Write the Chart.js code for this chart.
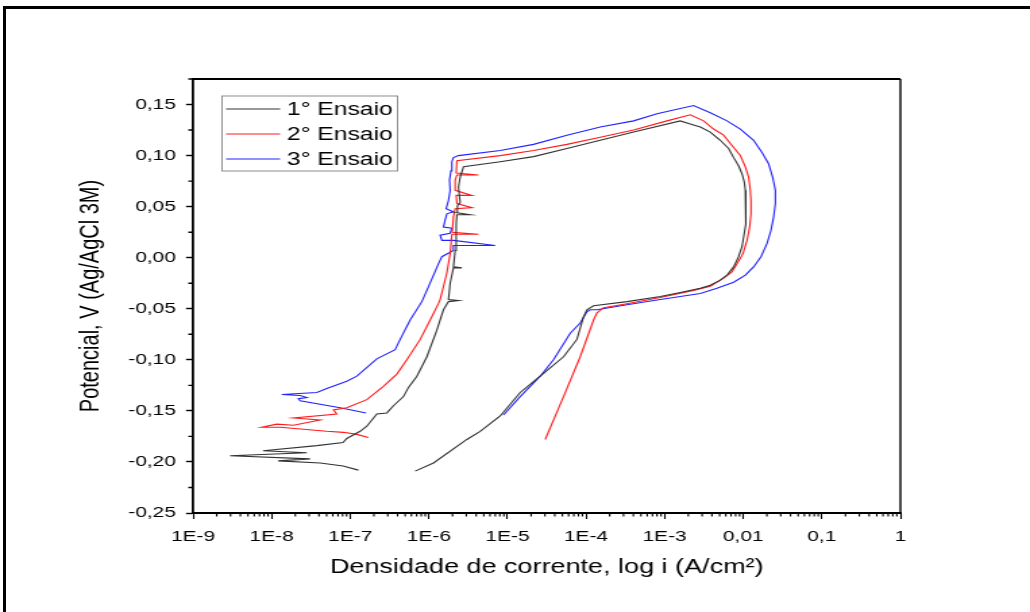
<!DOCTYPE html>
<html>
<head>
<meta charset="utf-8">
<script src="https://cdn.jsdelivr.net/npm/chart.js@4"></script>
<style>
  html, body { margin: 0; padding: 0; background: #fff; overflow: hidden; }
  body { width: 1030px; height: 612px; position: relative; }
  #frame { position: absolute; left: 3px; top: 6px; width: 1100px; height: 700px;
           border-left: 3px solid #000; border-top: 3px solid #000; }
  #wrap { position: absolute; left: 0; top: 0; width: 763px; height: 612px;
          transform: scaleX(1.34993); transform-origin: 0 0; }
</style>
</head>
<body>
<div id="frame"></div>
<div id="wrap"><canvas id="chart" width="763" height="612"></canvas></div>
<script>
// cyclic polarization curves, x = log10 of current density (A/cm2), y = potential (V)
const labels = ['1° Ensaio', '2° Ensaio', '3° Ensaio'];
const colors = ['#333333', '#ff1a1a', '#2222ff'];

const logI1 = [-6.896, -7.091, -7.383, -7.918, -7.511, -8.529, -7.553, -8.109, -7.425, -7.091,
  -7.044, -6.874, -6.789, -6.662, -6.534, -6.450, -6.323, -6.259, -6.152, -6.025,
  -5.898, -5.814, -5.750, -5.623, -5.750, -5.729, -5.687, -5.580, -5.687, -5.665,
  -5.652, -5.643, -5.474, -5.640, -5.636, -5.601, -5.623, -5.601, -5.559, -5.092,
  -4.668, -4.243, -3.819, -3.395, -2.801, -2.674, -2.546, -2.419, -2.292, -2.186,
  -2.122, -2.059, -2.015, -1.986, -1.973, -1.965, -1.965, -1.965, -1.973, -1.995,
  -2.015, -2.059, -2.122, -2.206, -2.292, -2.419, -2.546, -2.801, -3.055, -3.479,
  -3.904, -3.989, -4.032, -4.116, -4.286, -4.583, -4.838, -5.092, -5.347, -5.516,
  -5.941, -6.174];
const pot1 = [-0.208, -0.204, -0.201, -0.199, -0.197, -0.194, -0.191, -0.189, -0.184, -0.181,
  -0.177, -0.170, -0.165, -0.153, -0.152, -0.145, -0.136, -0.127, -0.116, -0.097,
  -0.071, -0.051, -0.043, -0.042, -0.041, -0.025, -0.010, -0.010, -0.009, 0.007,
  0.033, 0.042, 0.042, 0.044, 0.051, 0.054, 0.069, 0.079, 0.089, 0.094,
  0.099, 0.107, 0.115, 0.123, 0.134, 0.131, 0.128, 0.123, 0.115, 0.107,
  0.098, 0.090, 0.082, 0.074, 0.066, 0.058, 0.050, 0.043, 0.033, 0.020,
  0.011, 0.001, -0.009, -0.017, -0.022, -0.027, -0.030, -0.034, -0.038, -0.043,
  -0.047, -0.051, -0.058, -0.080, -0.097, -0.116, -0.132, -0.155, -0.170, -0.178,
  -0.201, -0.209];

const logI2 = [-6.769, -6.916, -7.087, -7.298, -7.893, -8.125, -7.935, -7.723, -7.383, -7.723,
  -7.171, -7.214, -7.044, -6.789, -6.578, -6.407, -6.280, -6.110, -5.983, -5.878,
  -5.856, -5.771, -5.729, -5.707, -5.368, -5.703, -5.687, -5.665, -5.452, -5.643,
  -5.652, -5.452, -5.665, -5.665, -5.643, -5.368, -5.652, -5.643, -5.092, -4.668,
  -4.243, -3.819, -3.395, -2.970, -2.674, -2.504, -2.377, -2.250, -2.122, -2.037,
  -1.973, -1.931, -1.910, -1.901, -1.901, -1.918, -1.952, -2.003, -2.079, -2.143,
  -2.250, -2.419, -2.632, -3.055, -3.479, -3.777, -3.861, -3.904, -4.074, -4.286,
  -4.519];
const pot2 = [-0.176, -0.173, -0.171, -0.170, -0.166, -0.166, -0.163, -0.164, -0.159, -0.157,
  -0.153, -0.149, -0.147, -0.139, -0.126, -0.114, -0.100, -0.080, -0.061, -0.045,
  -0.041, -0.015, 0.004, 0.023, 0.023, 0.025, 0.040, 0.048, 0.049, 0.053,
  0.061, 0.061, 0.066, 0.076, 0.081, 0.081, 0.083, 0.095, 0.100, 0.105,
  0.111, 0.118, 0.125, 0.134, 0.140, 0.134, 0.126, 0.120, 0.108, 0.100,
  0.089, 0.079, 0.066, 0.056, 0.043, 0.030, 0.017, 0.004, -0.006, -0.014,
  -0.020, -0.028, -0.032, -0.039, -0.045, -0.049, -0.054, -0.061, -0.097, -0.136,
  -0.178];

const logI3 = [-6.798, -7.129, -7.638, -7.660, -7.553, -7.638, -7.871, -7.425, -7.298, -7.044,
  -6.916, -6.662, -6.429, -6.365, -6.238, -6.089, -6.025, -5.878, -5.834, -5.687,
  -5.687, -5.156, -5.687, -5.834, -5.856, -5.729, -5.707, -5.814, -5.792, -5.771,
  -5.690, -5.780, -5.750, -5.729, -5.737, -5.719, -5.707, -5.687, -5.623, -5.092,
  -4.668, -4.243, -3.819, -3.395, -3.097, -2.632, -2.419, -2.206, -2.037, -1.868,
  -1.761, -1.677, -1.626, -1.591, -1.591, -1.613, -1.646, -1.697, -1.774, -1.868,
  -1.973, -2.122, -2.334, -2.546, -3.055, -3.479, -3.861, -3.946, -3.989, -4.074,
  -4.201, -4.414, -4.583, -4.838, -5.050];
const pot3 = [-0.152, -0.147, -0.140, -0.138, -0.137, -0.135, -0.134, -0.132, -0.128, -0.121,
  -0.116, -0.099, -0.090, -0.080, -0.061, -0.043, -0.032, -0.006, 0.001, 0.007,
  0.012, 0.012, 0.017, 0.017, 0.022, 0.024, 0.029, 0.030, 0.037, 0.043,
  0.045, 0.048, 0.056, 0.066, 0.076, 0.085, 0.094, 0.098, 0.100, 0.105,
  0.111, 0.120, 0.128, 0.134, 0.141, 0.149, 0.142, 0.134, 0.126, 0.115,
  0.103, 0.092, 0.079, 0.066, 0.053, 0.040, 0.027, 0.014, 0.001, -0.009,
  -0.017, -0.024, -0.030, -0.035, -0.041, -0.046, -0.051, -0.051, -0.053, -0.064,
  -0.074, -0.100, -0.116, -0.136, -0.154];

const xTickValues = [1e-9, 1e-8, 1e-7, 1e-6, 1e-5, 1e-4, 1e-3, 1e-2, 1e-1, 1];
const xTickLabels = ['1E-9', '1E-8', '1E-7', '1E-6', '1E-5', '1E-4', '1E-3', '0,01', '0,1', '1'];
const yTickValues = [-0.25, -0.20, -0.15, -0.10, -0.05, 0, 0.05, 0.10, 0.15];
const yTickLabels = ['-0,25', '-0,20', '-0,15', '-0,10', '-0,05', '0,00', '0,05', '0,10', '0,15'];
const yMinorValues = [-0.225, -0.175, -0.125, -0.075, -0.025, 0.025, 0.075, 0.125, 0.175];

const FONT = 'Liberation Sans, Arial, sans-serif';

function toPoints(logs, pots) {
    return logs.map((e, k) => ({ x: Math.pow(10, e), y: pots[k] }));
}

const series = [[logI1, pot1], [logI2, pot2], [logI3, pot3]];
const datasets = series.map((s, i) => ({
    label: labels[i],
    data: toPoints(s[0], s[1]),
    showLine: true,
    borderColor: colors[i],
    backgroundColor: colors[i],
    borderWidth: 1.1,
    pointRadius: 0,
    tension: 0
}));

// box lines, minor ticks and the legend
const extras = {
    id: 'extras',
    afterDraw(chart) {
        const ctx = chart.ctx;
        const a = chart.chartArea;
        const xs = chart.scales.x, ys = chart.scales.y;
        ctx.save();
        ctx.strokeStyle = '#000';
        ctx.lineWidth = 2;
        ctx.beginPath();
        ctx.moveTo(a.left, a.top);
        ctx.lineTo(a.right, a.top);
        ctx.stroke();
        ctx.lineWidth = 1.4;
        ctx.beginPath();
        ctx.moveTo(a.right, a.top);
        ctx.lineTo(a.right, a.bottom);
        ctx.stroke();

        // minor ticks
        ctx.lineWidth = 1.1;
        ctx.beginPath();
        for (let e = -9; e < 0; e++) {
            for (let m = 2; m <= 9; m++) {
                const px = xs.getPixelForValue(m * Math.pow(10, e));
                ctx.moveTo(px, a.bottom);
                ctx.lineTo(px, a.bottom + 3.5);
            }
        }
        ctx.stroke();
        ctx.lineWidth = 1.4;
        ctx.beginPath();
        yMinorValues.forEach(v => {
            const py = ys.getPixelForValue(v);
            ctx.moveTo(a.left - 3.5, py);
            ctx.lineTo(a.left, py);
        });
        ctx.stroke();

        // legend
        const lx = a.left + 21.5, ly = a.top + 17;
        ctx.strokeStyle = '#808080';
        ctx.lineWidth = 0.9;
        ctx.strokeRect(lx, ly, 130, 75);
        ctx.font = '18.3px ' + FONT;
        ctx.textBaseline = 'middle';
        ctx.textAlign = 'left';
        labels.forEach((t, i) => {
            const y = ly + 13 + i * 25;
            ctx.strokeStyle = colors[i];
            ctx.lineWidth = 1.1;
            ctx.beginPath();
            ctx.moveTo(lx + 3, y);
            ctx.lineTo(lx + 43, y);
            ctx.stroke();
            ctx.fillStyle = '#000';
            ctx.fillText(t, lx + 48, y + 1);
        });
        ctx.restore();
    }
};

new Chart(document.getElementById('chart'), {
    type: 'scatter',
    data: { datasets: datasets },
    options: {
        responsive: false,
        animation: false,
        devicePixelRatio: 1,
        layout: { padding: { left: 51, right: 96, top: 79, bottom: 29 } },
        plugins: {
            legend: { display: false },
            tooltip: { enabled: false }
        },
        scales: {
            x: {
                type: 'logarithmic',
                min: 1e-9,
                max: 1,
                afterBuildTicks: sc => { sc.ticks = xTickValues.map(v => ({ value: v })); },
                afterFit: sc => { sc.height = 70; },
                ticks: {
                    autoSkip: false,
                    maxRotation: 0,
                    padding: 8,
                    color: '#000',
                    font: { family: FONT, size: 15.5 },
                    major: { enabled: false },
                    callback: (v, i) => xTickLabels[i]
                },
                grid: { drawOnChartArea: false, tickLength: 6, tickWidth: 1.1, tickColor: '#000' },
                border: { color: '#000', width: 2 },
                title: {
                    display: true,
                    text: 'Densidade de corrente, log i (A/cm²)',
                    color: '#000',
                    font: { family: FONT, size: 20 }
                }
            },
            y: {
                min: -0.25,
                max: 0.175,
                afterBuildTicks: sc => { sc.ticks = yTickValues.map(v => ({ value: v })); },
                afterFit: sc => { sc.width = 92; },
                ticks: {
                    padding: 7.5,
                    color: '#000',
                    font: { family: FONT, size: 15.5 },
                    callback: (v, i) => yTickLabels[i]
                },
                grid: { drawOnChartArea: false, tickLength: 5.2, tickWidth: 1.4, tickColor: '#000' },
                border: { color: '#000', width: 1.8 },
                title: {
                    display: true,
                    text: 'Potencial, V (Ag/AgCl 3M)',
                    color: '#000',
                    font: { family: FONT, size: 20 }
                }
            }
        }
    },
    plugins: [extras]
});
</script>
</body>
</html>
